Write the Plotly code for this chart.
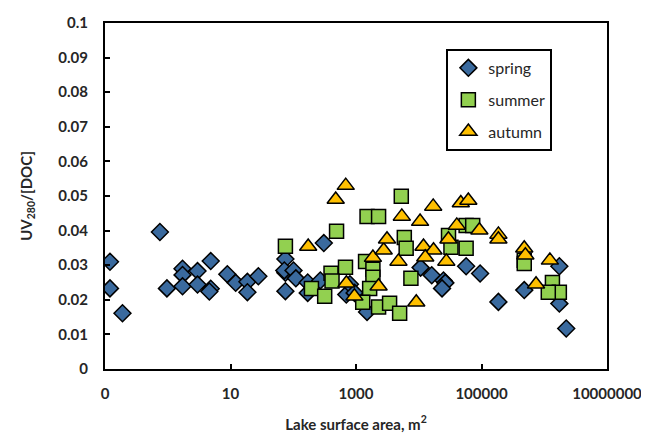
import plotly.graph_objects as go

# ---- data ----
spring_x = [0.12, 0.12, 0.19, 0.75, 0.97, 1.72, 1.72, 1.72, 2.98, 2.98, 4.84, 4.84, 4.6,
            8.9, 12.1, 18.6, 18.6, 27.8, 75, 75, 75, 72, 101, 110, 170, 170, 270, 307,
            700, 800, 950, 1500, 10700, 16100, 24800, 26500, 23500, 56900, 95000,
            186000, 480000, 1.74e6, 1.74e6, 2.24e6]
spring_y = [0.0310, 0.0233, 0.0161, 0.0396, 0.0233, 0.0290, 0.0272, 0.0239, 0.0283, 0.0244,
            0.0312, 0.0232, 0.0224, 0.0274, 0.0249, 0.0252, 0.0222, 0.0268, 0.0318, 0.0278,
            0.0225, 0.0285, 0.0285, 0.0262, 0.0250, 0.0220, 0.0256, 0.0364,
            0.0215, 0.0245, 0.0220, 0.0165, 0.0293, 0.0271, 0.0256, 0.0249, 0.0233,
            0.0297, 0.0276, 0.0194, 0.0228, 0.0297, 0.0189, 0.0117]

summer_x = [75, 490, 400, 680, 195, 317, 415, 1500, 2290, 5270, 1420, 1860, 1860, 1650,
            1280, 2290, 3430, 4960, 5890, 6300, 7500, 29800, 32600, 56900, 56900, 72400,
            480000, 480000, 1.35e6, 1.74e6, 1.16e6]
summer_y = [0.0355, 0.0398, 0.0277, 0.0294, 0.0233, 0.0210, 0.0254, 0.0441, 0.0441, 0.0499,
            0.0311, 0.0288, 0.0265, 0.0233, 0.0193, 0.0179, 0.0190, 0.0161, 0.0380, 0.0349,
            0.0262, 0.0386, 0.0352, 0.0415, 0.0349, 0.0415, 0.0314, 0.0305, 0.0250,
            0.0222, 0.0222]

autumn_x = [173, 475, 686, 703, 944, 1860, 2760, 3120, 4750, 5370, 2290, 9130, 10500,
            17000, 11900, 17200, 12700, 27500, 29700, 40400, 46800, 61700, 92500,
            186000, 186000, 480000, 500000, 1.23e6, 740000]
autumn_y = [0.0354, 0.0490, 0.0530, 0.0248, 0.0210, 0.0322, 0.0343, 0.0375, 0.0311, 0.0441,
            0.0239, 0.0193, 0.0426, 0.0470, 0.0354, 0.0343, 0.0323, 0.0311, 0.0375, 0.0415,
            0.0480, 0.0487, 0.0401, 0.0389, 0.0375, 0.0349, 0.0329, 0.0314, 0.0245]

x_tickvals = [0.1, 10, 1000, 100000, 10000000]
x_ticktext = ["0", "10", "1000", "100000", "10000000"]
y_tickvals = [0, 0.01, 0.02, 0.03, 0.04, 0.05, 0.06, 0.07, 0.08, 0.09, 0.1]
y_ticktext = ["0", "0.01", "0.02", "0.03", "0.04", "0.05", "0.06", "0.07", "0.08", "0.09", "0.1"]

FONT = "Lato"
TXT = "#262626"

fig = go.Figure()
fig.add_trace(go.Scatter(x=spring_x, y=spring_y, mode="markers", name="spring", legendgroup="a",
                         marker=dict(symbol="diamond", size=13, color="#3A6A9E",
                                     line=dict(color="black", width=1.5))))
fig.add_trace(go.Scatter(x=summer_x, y=summer_y, mode="markers", name="summer", legendgroup="b",
                         marker=dict(symbol="square", size=14, color="#92D050",
                                     line=dict(color="black", width=1.5))))
fig.add_trace(go.Scatter(x=autumn_x, y=autumn_y, mode="markers", name="autumn", legendgroup="c",
                         marker=dict(symbol="triangle-up", size=15, color="#FFC000",
                                     line=dict(color="black", width=1.5))))

bold = dict(family=FONT, size=15, color=TXT, weight="bold")
axis_common = dict(showline=True, linecolor="black", linewidth=2, mirror=True,
                   ticks="inside", ticklen=5, tickwidth=2, tickcolor="black",
                   showgrid=False, zeroline=False, automargin=False,
                   tickfont=bold)

fig.update_xaxes(type="log", range=[-1, 7], tickvals=x_tickvals, ticktext=x_ticktext,
                 ticklabelstandoff=10,
                 title=dict(text="Lake surface area, m<sup>2</sup>", font=bold, standoff=18),
                 **axis_common)
fig.update_yaxes(range=[0, 0.1], tickvals=y_tickvals, ticktext=y_ticktext,
                 ticklabelstandoff=12,
                 title=dict(text="UV<sub>280</sub>/[DOC]", font=bold, standoff=22),
                 **axis_common)

fig.update_layout(
    width=649, height=435,
    margin=dict(l=97, r=50, t=15, b=74),
    plot_bgcolor="white", paper_bgcolor="white",
    font=dict(family=FONT, size=15, color=TXT),
    showlegend=True,
    legend=dict(x=0.68, y=0.925, xanchor="left", yanchor="top",
                bgcolor="white", bordercolor="black", borderwidth=2,
                traceorder="grouped", tracegroupgap=8,
                font=dict(family=FONT, size=16, color=TXT),
                itemwidth=30),
)

fig.write_html("out.html")
